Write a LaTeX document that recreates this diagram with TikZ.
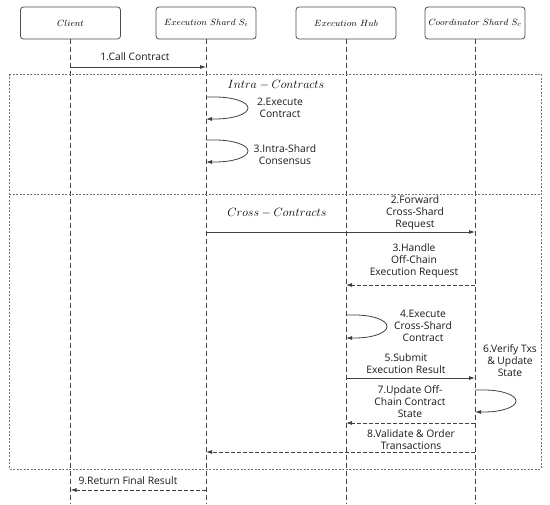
\documentclass[tikz,border=0pt]{standalone}
\usepackage{fontspec}
\setsansfont{Open Sans}
\usetikzlibrary{arrows.meta,positioning}

\tikzset{
  kopf/.style={draw=black!70, line width=0.8pt, rounded corners=3pt,
    minimum width=100pt, minimum height=32pt, font=\fontsize{9.5}{11}\selectfont},
  leben/.style={draw=black!75, line width=1pt, dash pattern=on 5pt off 3pt},
  rahmen/.style={draw=black!55, line width=0.6pt, dash pattern=on 2pt off 1.5pt},
  nachricht/.style={draw=black!75, line width=0.8pt, -{Latex[length=6pt,width=4pt]}},
  antwort/.style={nachricht, dash pattern=on 4pt off 2pt},
  txt/.style={font=\sffamily\fontsize{10.3}{12}\selectfont, align=center,
    text=black!90, inner sep=0pt},
  titel/.style={font=\fontsize{11.5}{13}\selectfont, inner sep=0pt},
}

\begin{document}
\begin{tikzpicture}[x=1pt,y=-1pt]
        % Umgebung
        \useasboundingbox (0,0) rectangle (550,505);

        % Teilnehmer
        \node[kopf] (cl) at (70.5,23) {$Client$};
        \node[kopf] (es) at (206,23) {$Execution\ Shard\ S_i$};
        \node[kopf] (hub) at (346,23) {$Execution\ Hub$};
        \node[kopf] (cs) at (475,23) {$Coordinator\ Shard\ S_c$};

        % Lebenslinien
        \coordinate (ende) at (0,504);
        \foreach \n in {cl,es,hub,cs}
            \draw[leben] (\n.south) -- (\n |- ende);

        % Bereiche
        \coordinate (ro) at (9,74);
        \coordinate (ru) at (541,469);
        \draw[rahmen] (ro) rectangle (ru);
        \coordinate (tl) at (9,194);
        \coordinate (tr) at (541,194);
        \draw[rahmen] (tl) -- (tr);

        % Aufruf
        \coordinate (y1) at (0,67);
        \draw[nachricht] (cl |- y1) -- (es |- y1);
        \node[txt] (t1) at (135,57) {1.Call Contract};

        % Intra-Contracts
        \node[titel] (intra) at (276,85) {$Intra-Contracts$};

        \coordinate (y2) at (0,97);
        \coordinate (y2b) at (0,119);
        \draw[nachricht] (es |- y2) -- ++(9,0) arc[start angle=-90, end angle=90, x radius=33, y radius=11] -- (es |- y2b);
        \node[txt] (t2) at (280,107.5) {2.Execute\\Contract};

        \coordinate (y3) at (0,140);
        \coordinate (y3b) at (0,162);
        \draw[nachricht] (es |- y3) -- ++(9,0) arc[start angle=-90, end angle=90, x radius=33, y radius=11] -- (es |- y3b);
        \node[txt] (t3) at (285,155) {3.Intra-Shard\\Consensus};

        % Cross-Contracts
        \node[titel] (cross) at (277,213) {$Cross-Contracts$};

        \coordinate (y4) at (0,232);
        \draw[nachricht] (es |- y4) -- (cs |- y4);
        \node[txt] (t4) at (415,213) {2.Forward\\Cross-Shard\\Request};

        \coordinate (y5) at (0,285);
        \draw[antwort] (cs |- y5) -- (hub |- y5);
        \node[txt] (t5) at (414,260.5) {3.Handle\\Off-Chain\\Execution Request};

        \coordinate (y6) at (0,315);
        \coordinate (y6b) at (0,338);
        \draw[nachricht] (hub |- y6) -- ++(9,0) arc[start angle=-90, end angle=90, x radius=32, y radius=11.5] -- (hub |- y6b);
        \node[txt] (t6) at (423,325.5) {4.Execute\\Cross-Shard\\Contract};

        \coordinate (y7) at (0,378);
        \draw[nachricht] (hub |- y7) -- (cs |- y7);
        \node[txt] (t7) at (406,364) {5.Submit\\Execution Result};

        \coordinate (y8) at (0,390);
        \coordinate (y8b) at (0,412);
        \draw[nachricht] (cs |- y8) -- ++(9,0) arc[start angle=-90, end angle=90, x radius=32, y radius=11] -- (cs |- y8b);
        \node[txt] (t8) at (510,361) {6.Verify Txs\\\& Update\\State};

        \coordinate (y9) at (0,423);
        \draw[antwort] (cs |- y9) -- (hub |- y9);
        \node[txt] (t9) at (410,402) {7.Update Off-\\Chain Contract\\State};

        \coordinate (y10) at (0,452);
        \draw[antwort] (cs |- y10) -- (es |- y10);
        \node[txt] (t10) at (411,440) {8.Validate \& Order\\Transactions};

        % Ergebnis
        \coordinate (y11) at (0,490);
        \draw[antwort] (es |- y11) -- (cl |- y11);
        \node[txt] (t11) at (128,481) {9.Return Final Result};

    \end{tikzpicture}
\end{document}
